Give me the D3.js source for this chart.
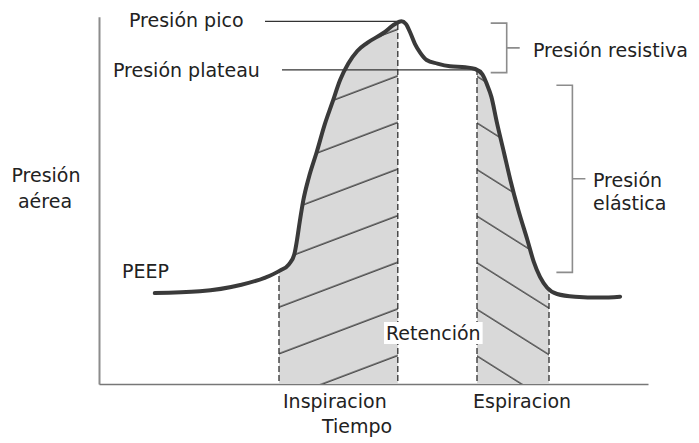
<!DOCTYPE html>
<html>
<head>
<meta charset="utf-8">
<script src="https://cdn.jsdelivr.net/npm/d3@7"></script>
<style>
  html, body { margin: 0; padding: 0; background: #fff; }
  svg { display: block; }
  text { font-family: "DejaVu Sans", sans-serif; font-size: 19px; fill: #222; }
</style>
</head>
<body>
<svg id="chart" width="699" height="443"></svg>
<script>
// ---- data (time in s, airway pressure in cmH2O) ----
const time = [0.62, 1.12, 1.57, 1.84, 2.01, 2.11, 2.17, 2.20, 2.23, 2.27, 2.33, 2.42, 2.51, 2.59, 2.68, 2.77, 2.87, 2.98, 3.16, 3.29, 3.36,
              3.41, 3.46, 3.51, 3.57, 3.64, 3.76, 3.90, 4.07, 4.18, 4.26, 4.31, 4.36, 4.42, 4.50, 4.57, 4.66, 4.76, 4.83, 4.90, 4.98, 5.09, 5.29, 5.57, 5.79];
const pressure = [10.1, 10.3, 11.0, 11.8, 12.6, 13.3, 14.4, 16.0, 18.0, 20.4, 22.9, 25.8, 28.9, 31.2, 33.8, 35.6, 37.0, 37.9, 39.0, 40.0, 40.3,
                  40.0, 39.0, 37.8, 36.8, 36.0, 35.6, 35.3, 35.2, 35.0, 34.4, 33.3, 31.9, 29.1, 25.7, 22.7, 19.3, 16.0, 13.6, 11.9, 10.7, 10.0, 9.7, 9.6, 9.7];
const phaseNames = ["Inspiracion", "Espiracion"];
const phaseStart = [2.0, 4.2];
const phaseEnd = [3.32, 5.0];
const peakTime = 3.36, peakPressure = 40.3;
const plateauPressure = 34.9, plateauEndTime = 4.23;
const bracketNames = ["Presión resistiva", "Presión elástica"];
const bracketTop = [40.1, 33.2];
const bracketBottom = [34.6, 12.4];
const bracketTime = [4.53, 5.26];

// ---- scales ----
const svg = d3.select("#chart");
const x = d3.scaleLinear().domain([0, 6.1]).range([99, 648]);
const y = d3.scaleLinear().domain([0, 41]).range([384, 15]);
const data = time.map((t, i) => ({t, p: pressure[i]}));
const curve = d3.curveMonotoneX;

const defs = svg.append("defs");
defs.append("clipPath").attr("id", "under")
  .append("path")
  .attr("d", d3.area().x(d => x(d.t)).y0(y(0)).y1(d => y(d.p)).curve(curve)(data));

function hatch(id, angle, offset) {
  const pat = defs.append("pattern").attr("id", id)
    .attr("patternUnits", "userSpaceOnUse")
    .attr("width", 10).attr("height", 46.6)
    .attr("patternTransform", `skewY(${angle})`);
  pat.append("line").attr("x1", -2).attr("x2", 12)
    .attr("y1", offset).attr("y2", offset)
    .attr("stroke", "#262626").attr("stroke-width", 1.3);
}
hatch("hatch0", -20.7, 39.8);
hatch("hatch1", 32.2, 9);

// ---- axes ----
const yAxisScale = y.copy().domain([0, 40.8]).range([y(0), y(40.8)]);
const gy = svg.append("g").attr("transform", `translate(${x(0)},0)`)
  .call(d3.axisLeft(yAxisScale).tickValues([]).tickSizeOuter(0));
gy.select(".domain").attr("stroke", "#8c8c8c").attr("stroke-width", 2);
const gx = svg.append("g").attr("transform", `translate(0,${y(0)})`)
  .call(d3.axisBottom(x).tickValues([]).tickSizeOuter(0));
gx.select(".domain").attr("stroke", "#777").attr("stroke-width", 1.6);

// ---- shaded phases ----
const phases = svg.append("g").attr("clip-path", "url(#under)");
phaseNames.forEach((name, i) => {
  const x0 = x(phaseStart[i]), x1 = x(phaseEnd[i]);
  phases.append("rect").attr("x", x0).attr("width", x1 - x0)
    .attr("y", y(41)).attr("height", y(0) - y(41)).attr("fill", "#d9d9d9");
  phases.append("rect").attr("x", x0).attr("width", x1 - x0)
    .attr("y", y(41)).attr("height", y(0) - y(41)).attr("fill", `url(#hatch${i})`);
  [phaseStart[i], phaseEnd[i]].forEach(t => {
    phases.append("line").attr("x1", x(t)).attr("x2", x(t))
      .attr("y1", y(41)).attr("y2", y(0))
      .attr("stroke", "#2e2e2e").attr("stroke-width", 1.3)
      .attr("stroke-dasharray", "6,3");
  });
});

// ---- pointer lines ----
svg.append("line").attr("x1", 265).attr("x2", x(peakTime))
  .attr("y1", y(peakPressure)).attr("y2", y(peakPressure))
  .attr("stroke", "#333").attr("stroke-width", 1.2);
svg.append("line").attr("x1", 282).attr("x2", x(plateauEndTime))
  .attr("y1", y(plateauPressure)).attr("y2", y(plateauPressure))
  .attr("stroke", "#333").attr("stroke-width", 1.2);

// ---- pressure curve ----
svg.append("path")
  .attr("d", d3.line().x(d => x(d.t)).y(d => y(d.p)).curve(curve)(data))
  .attr("fill", "none").attr("stroke", "#3a3a3a").attr("stroke-width", 4)
  .attr("stroke-linejoin", "round").attr("stroke-linecap", "round");

// ---- brackets ----
bracketNames.forEach((name, i) => {
  const bx = x(bracketTime[i]), yt = y(bracketTop[i]), yb = y(bracketBottom[i]);
  const ym = (yt + yb) / 2;
  svg.append("path")
    .attr("d", `M${bx - 16},${yt}H${bx}V${yb}H${bx - 16}M${bx},${ym}H${bx + 13}`)
    .attr("fill", "none").attr("stroke", "#8c8c8c").attr("stroke-width", 1.6);
});

// ---- labels ----
function label(txt, px, py, anchor) {
  return svg.append("text").attr("x", px).attr("y", py)
    .attr("text-anchor", anchor || "start").text(txt);
}
label("Presión pico", 129, 27);
label("Presión plateau", 113, 77);
label("Presión resistiva", 533, 57);
label("Presión", 593, 187);
label("elástica", 593, 210);
label("Presión", 46, 182, "middle");
label("aérea", 45, 208, "middle");
label("PEEP", 122, 278);
const ret = label("Retención", 386, 340);
const bb = ret.node().getBBox();
svg.insert("rect", "text").attr("x", bb.x - 2).attr("y", bb.y).attr("width", bb.width + 4)
  .attr("height", bb.height).attr("fill", "#fff");
ret.raise();
label(phaseNames[0], 283, 408);
label(phaseNames[1], 473, 408);
label("Tiempo", 322, 433);
</script>
</body>
</html>
